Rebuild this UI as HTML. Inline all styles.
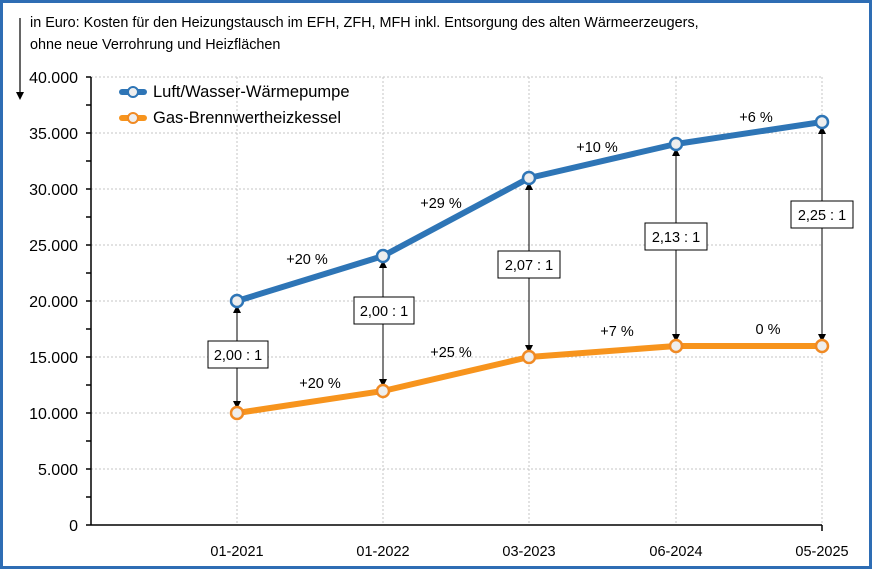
<!DOCTYPE html><html><head><style>body{margin:0}svg{display:block}text{font-family:"Liberation Sans",sans-serif;fill:#000}</style></head><body>
<svg width="872" height="569" xmlns="http://www.w3.org/2000/svg" style="font-size:13px">
<defs><marker id="a" markerWidth="8" markerHeight="8" refX="4" refY="4" orient="auto-start-reverse" markerUnits="userSpaceOnUse"><path d="M0,0L8,4L0,8z" fill="#000"/></marker></defs>
<rect x="1.5" y="1.5" width="869" height="566" fill="#fff" stroke="#2e6db4" stroke-width="3"/>
<text x="30" y="27" style="font-size:14.4px">in Euro: Kosten für den Heizungstausch im EFH, ZFH, MFH inkl. Entsorgung des alten Wärmeerzeugers,</text>
<text x="30" y="49" style="font-size:14.4px">ohne neue Verrohrung und Heizflächen</text>
<line x1="20" y1="18" x2="20" y2="96" stroke="#000" stroke-width="1.2" marker-end="url(#a)"/>
<g stroke="#c4c4c4" stroke-dasharray="2,2" stroke-width="1">
<line x1="91" y1="77" x2="822" y2="77"/><line x1="91" y1="133" x2="822" y2="133"/><line x1="91" y1="189" x2="822" y2="189"/><line x1="91" y1="245" x2="822" y2="245"/><line x1="91" y1="301" x2="822" y2="301"/><line x1="91" y1="357" x2="822" y2="357"/><line x1="91" y1="413" x2="822" y2="413"/><line x1="91" y1="469" x2="822" y2="469"/>
<line x1="237" y1="77" x2="237" y2="525"/><line x1="383" y1="77" x2="383" y2="525"/><line x1="529" y1="77" x2="529" y2="525"/><line x1="676" y1="77" x2="676" y2="525"/><line x1="822" y1="77" x2="822" y2="525"/>
</g>
<g stroke="#000" stroke-width="1.5"><line x1="91" y1="77" x2="91" y2="525"/><line x1="91" y1="525" x2="822" y2="525"/><line x1="822" y1="525" x2="822" y2="531"/>
<path d="M86,77h5M86,105h5M86,133h5M86,161h5M86,189h5M86,217h5M86,245h5M86,273h5M86,301h5M86,329h5M86,357h5M86,385h5M86,413h5M86,441h5M86,469h5M86,497h5M86,525h5"/></g>
<g text-anchor="end" style="font-size:16px"><text x="78" y="83">40.000</text><text x="78" y="139">35.000</text><text x="78" y="195">30.000</text><text x="78" y="251">25.000</text><text x="78" y="307">20.000</text><text x="78" y="363">15.000</text><text x="78" y="419">10.000</text><text x="78" y="475">5.000</text><text x="78" y="531">0</text></g>
<g text-anchor="middle" style="font-size:14.5px"><text x="237" y="556">01-2021</text><text x="383" y="556">01-2022</text><text x="529" y="556">03-2023</text><text x="676" y="556">06-2024</text><text x="822" y="556">05-2025</text></g>
<g stroke="#000" stroke-width="1" marker-start="url(#a)" marker-end="url(#a)">
<line x1="237" y1="309" x2="237" y2="405"/><line x1="383" y1="264" x2="383" y2="383"/><line x1="529" y1="186" x2="529" y2="349"/><line x1="676" y1="152" x2="676" y2="338"/><line x1="822" y1="130" x2="822" y2="338"/></g>
<polyline points="237,301 383,256 529,178 676,144 822,122" fill="none" stroke="#2e75b6" stroke-width="6" stroke-linejoin="round"/>
<polyline points="237,413 383,391 529,357 676,346 822,346" fill="none" stroke="#f7941d" stroke-width="6" stroke-linejoin="round"/>
<g fill="#eee" stroke="#2e75b6" stroke-width="2.5"><circle cx="237" cy="301" r="6"/><circle cx="383" cy="256" r="6"/><circle cx="529" cy="178" r="6"/><circle cx="676" cy="144" r="6"/><circle cx="822" cy="122" r="6"/></g>
<g fill="#eee" stroke="#f08a24" stroke-width="2.5"><circle cx="237" cy="413" r="6"/><circle cx="383" cy="391" r="6"/><circle cx="529" cy="357" r="6"/><circle cx="676" cy="346" r="6"/><circle cx="822" cy="346" r="6"/></g>
<g fill="#fff" stroke="#000" stroke-width="1"><rect x="208" y="341" width="60" height="27"/><rect x="354" y="297" width="60" height="27"/><rect x="498" y="251" width="62" height="27"/><rect x="645" y="223" width="62" height="27"/><rect x="791" y="201" width="62" height="27"/></g>
<g text-anchor="middle" style="font-size:14.5px"><text x="238" y="360">2,00 : 1</text><text x="384" y="316">2,00 : 1</text><text x="529" y="270">2,07 : 1</text><text x="676" y="242">2,13 : 1</text><text x="822" y="220">2,25 : 1</text>
<text x="307" y="264">+20 %</text><text x="441" y="208">+29 %</text><text x="597" y="152">+10 %</text><text x="756" y="122">+6 %</text>
<text x="320" y="388">+20 %</text><text x="451" y="357">+25 %</text><text x="617" y="336">+7 %</text><text x="768" y="334">0 %</text></g>
<line x1="122" y1="92" x2="144" y2="92" stroke="#2e75b6" stroke-width="6" stroke-linecap="round"/><circle cx="133" cy="92" r="5" fill="#eee" stroke="#2e75b6" stroke-width="2"/>
<line x1="122" y1="118" x2="144" y2="118" stroke="#f7941d" stroke-width="6" stroke-linecap="round"/><circle cx="133" cy="118" r="5" fill="#eee" stroke="#f08a24" stroke-width="2"/>
<text x="153" y="97" style="font-size:16.5px">Luft/Wasser-Wärmepumpe</text><text x="153" y="123" style="font-size:16.5px">Gas-Brennwertheizkessel</text>
</svg></body></html>
